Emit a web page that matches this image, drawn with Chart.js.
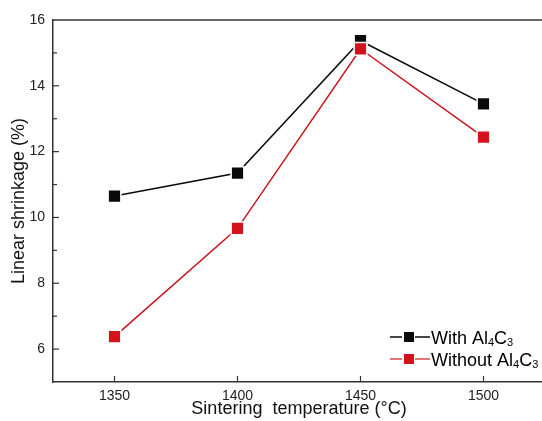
<!DOCTYPE html>
<html>
<head>
<meta charset="utf-8">
<script src="https://cdn.jsdelivr.net/npm/chart.js@4/dist/chart.umd.min.js"></script>
<style>
  html, body { margin: 0; padding: 0; background: #ffffff; overflow: hidden; }
  #wrap { position: relative; width: 546px; height: 421px; }
</style>
</head>
<body>
<div id="wrap"><canvas id="c"></canvas></div>
<script>
// Sintering temperature (°C)
const temps = [1350, 1400, 1450, 1500];
// Linear shrinkage (%) for each series
const withAl4C3 = [10.65, 11.35, 15.37, 13.45];
const withoutAl4C3 = [6.38, 9.67, 15.12, 12.44];
// Labelled y values (odd values get a short minor tick only)
const yTickLabels = [6, 8, 10, 12, 14, 16];
const seriesNames = ['With Al4C3', 'Without Al4C3'];

const FONT = '"Liberation Sans", Arial, sans-serif';
const AXIS_COLOR = '#333333';
const BLACK = '#0a0a0a';
const RED = '#d5121b';

// Inward tick marks, frame top line and the legend with subscripted formula
const framePlugin = {
  id: 'frame',
  afterDraw(chart) {
    const ctx = chart.ctx;
    const area = chart.chartArea;
    const xs = chart.scales.x, ys = chart.scales.y;
    ctx.save();
    ctx.strokeStyle = AXIS_COLOR;
    ctx.lineWidth = 1.5;
    // top frame line
    ctx.beginPath();
    ctx.moveTo(area.left, area.top);
    ctx.lineTo(area.right, area.top);
    ctx.stroke();
    // x ticks (inward)
    ctx.lineWidth = 1.2;
    xs.ticks.forEach(t => {
      const px = xs.getPixelForValue(t.value);
      ctx.beginPath();
      ctx.moveTo(px, area.bottom);
      ctx.lineTo(px, area.bottom - 6);
      ctx.stroke();
    });
    // y ticks (inward): major at labelled values, minor in between
    ys.ticks.forEach(t => {
      if (t.value <= ys.min || t.value >= ys.max) return;
      const py = ys.getPixelForValue(t.value);
      const len = yTickLabels.includes(t.value) ? 6 : 4;
      ctx.beginPath();
      ctx.moveTo(area.left, py);
      ctx.lineTo(area.left + len, py);
      ctx.stroke();
    });

    // legend
    const colors = [BLACK, RED];
    const lineColors = [BLACK, '#d84a4a'];
    const x0 = area.right - 155;
    const rows = [area.bottom - 45, area.bottom - 23];
    seriesNames.forEach((name, i) => {
      const y = rows[i];
      ctx.strokeStyle = lineColors[i];
      ctx.lineWidth = 1.3;
      ctx.beginPath();
      ctx.moveTo(x0, y); ctx.lineTo(x0 + 12, y);
      ctx.moveTo(x0 + 25, y); ctx.lineTo(x0 + 40, y);
      ctx.stroke();
      ctx.fillStyle = colors[i];
      ctx.fillRect(x0 + 14, y - 5, 10, 10);
      // text with digits as subscripts
      let tx = x0 + 41;
      ctx.fillStyle = '#000000';
      ctx.textBaseline = 'alphabetic';
      ctx.textAlign = 'left';
      const base = y + 6.5;
      for (const ch of name) {
        const sub = /[0-9]/.test(ch);
        ctx.font = (sub ? '11px ' : '18px ') + FONT;
        ctx.fillText(ch, tx, sub ? base + 2 : base);
        tx += ctx.measureText(ch).width;
      }
    });
    ctx.restore();
  }
};

function toPoints(values) {
  return temps.map((t, i) => ({ x: t, y: values[i] }));
}

new Chart(document.getElementById('c'), {
  type: 'line',
  data: {
    datasets: [
      {
        label: seriesNames[0],
        data: toPoints(withAl4C3),
        order: 1,
        borderColor: BLACK,
        borderWidth: 1.5,
        backgroundColor: BLACK,
        pointStyle: 'rect',
        pointRadius: 9,
        pointBackgroundColor: BLACK,
        pointBorderColor: '#ffffff',
        pointBorderWidth: 1.5,
        tension: 0
      },
      {
        label: seriesNames[1],
        data: toPoints(withoutAl4C3),
        order: 0,
        borderColor: '#c8141c',
        borderWidth: 1.5,
        backgroundColor: RED,
        pointStyle: 'rect',
        pointRadius: 9,
        pointBackgroundColor: RED,
        pointBorderColor: '#ffffff',
        pointBorderWidth: 1.5,
        tension: 0
      }
    ]
  },
  options: {
    responsive: true,
    maintainAspectRatio: false,
    animation: false,
    clip: false,
    layout: { autoPadding: false, padding: { top: 20, right: 1, left: 0, bottom: 0 } },
    plugins: {
      legend: { display: false },
      tooltip: { enabled: false }
    },
    scales: {
      x: {
        type: 'linear',
        min: 1325,
        max: 1525,
        afterBuildTicks(scale) { scale.ticks = temps.map(v => ({ value: v })); },
        afterFit(scale) { scale.height = 39; },
        grid: { display: false, drawTicks: false },
        border: { display: true, color: AXIS_COLOR, width: 1.5 },
        ticks: {
          padding: 6,
          color: '#222222',
          font: { family: FONT, size: 14 },
          maxRotation: 0,
          callback: v => String(v)
        },
        title: {
          display: true,
          text: 'Sintering  temperature (°C)',
          color: '#111111',
          font: { family: FONT, size: 18 },
          padding: { top: 0, bottom: 1 }
        }
      },
      y: {
        min: 5,
        max: 16,
        afterFit(scale) { scale.width = 53; },
        grid: { display: false, drawTicks: false },
        border: { display: true, color: AXIS_COLOR, width: 1.5 },
        ticks: {
          stepSize: 1,
          padding: 8,
          color: '#222222',
          font: { family: FONT, size: 14 },
          callback: v => (yTickLabels.includes(v) ? String(v) : '')
        },
        title: {
          display: true,
          text: 'Linear shrinkage (%)',
          color: '#111111',
          font: { family: FONT, size: 18 },
          padding: { top: 8, bottom: 0 }
        }
      }
    }
  },
  plugins: [framePlugin]
});
</script>
</body>
</html>
